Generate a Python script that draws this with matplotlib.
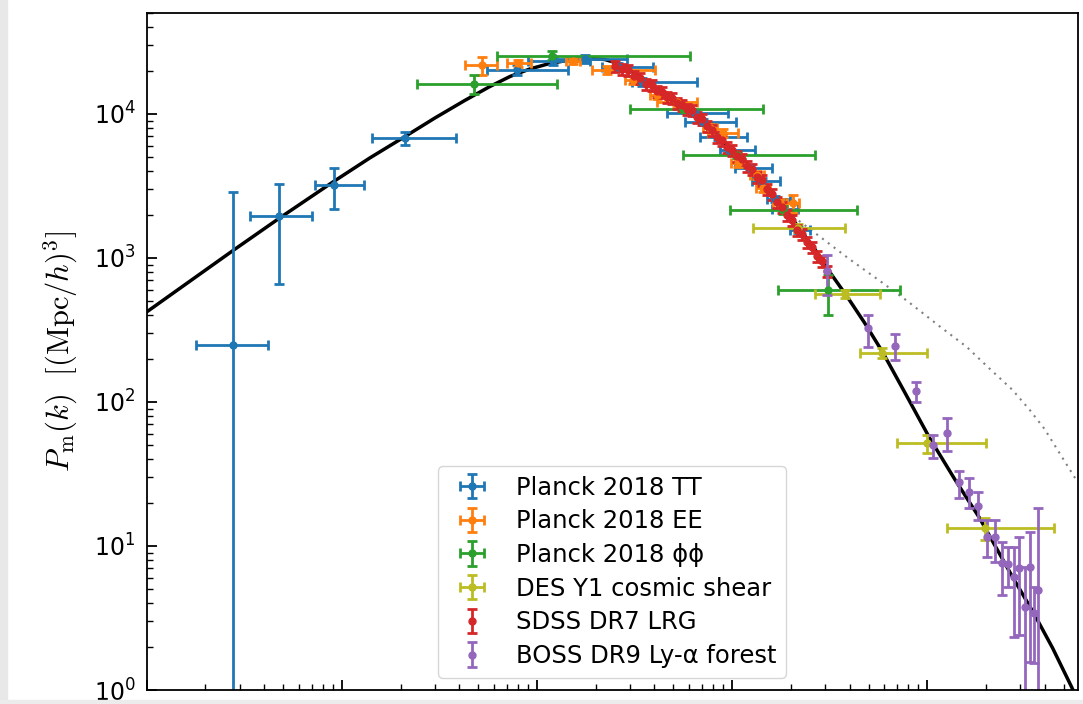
import numpy as np
import matplotlib
matplotlib.use("Agg")
import matplotlib.pyplot as plt
from matplotlib.patches import Rectangle

# linear theory P(k) at z=0
k_lin = [1.00e-4, 1.67e-4, 2.77e-4, 4.76e-4, 9.01e-4, 1.39e-3, 2.11e-3, 3.00e-3,
         4.27e-3, 5.74e-3, 7.27e-3, 9.20e-3, 0.01164, 0.01473, 0.01865, 0.02227,
         0.02659, 0.03445, 0.0479, 0.06433, 0.08433, 0.1093, 0.1416, 0.1815,
         0.2165, 0.2646, 0.316, 0.3864, 0.4775, 0.5904, 0.7656, 1.028, 1.38,
         1.853, 2.735, 3.506, 4.387, 5.491, 6.4]
P_lin = [422, 692, 1127, 1880, 3373, 4945, 6980, 9380,
         12420, 15520, 18200, 20540, 22430, 23710, 24270, 23880,
         22240, 17780, 13120, 9680, 7030, 4945, 3373, 2296,
         1668, 1156, 800, 545, 354, 222, 117, 56.2, 29.2,
         15.65, 6.09, 3.43, 1.957, 1.049, 0.66]

# non-linear (dotted)
k_nl = [0.1815, 0.2205, 0.2965, 0.3981, 0.5674, 0.7891, 1.151, 1.594, 2.07,
        2.738, 3.35, 3.99, 5.89]
P_nl = [2296, 1807, 1334, 984, 698, 503, 337, 241, 172,
        121, 88, 64.9, 27.8]

# Planck 2018 TT
tt_k = [2.76e-4, 4.75e-4, 9.1e-4, 2.10e-3, 7.89e-3, 0.01208, 0.01763, 0.0260, 0.03455,
        0.0646, 0.0710, 0.0847, 0.0965, 0.1236, 0.1425, 0.1663, 0.1827, 0.218]
tt_k_lo = [1.78e-4, 3.37e-4, 7.28e-4, 1.43e-3, 5.55e-3, 8.99e-3, 0.01236, 0.02155, 0.03069,
           0.04645, 0.0574, 0.0686, 0.0868, 0.1036, 0.1268, 0.1511, 0.1603, 0.1982]
tt_k_hi = [4.18e-4, 7.0e-4, 1.30e-3, 3.85e-3, 0.01442, 0.01871, 0.02897, 0.03938, 0.0662,
           0.0954, 0.1048, 0.1194, 0.1312, 0.1603, 0.1762, 0.1982, 0.218, 0.2512]
tt_P = [249, 1958, 3215, 6810, 20220, 23340, 24100, 21200, 16680,
        10160, 8790, 6920, 5620, 4217, 3428, 2570, 2190, 1565]
tt_P_lo = [0.1, 660, 2188, 6095, 18660, 21880, 22600, 19900, 15640,
           9680, 8390, 6590, 5360, 4018, 3266, 2448, 2086, 1492]
tt_P_hi = [2870, 3266, 4217, 7500, 21880, 24880, 25700, 22600, 17780,
           10660, 9230, 7260, 5900, 4424, 3593, 2697, 2296, 1641]

# Planck 2018 EE
ee_k = [5.23e-3, 8.0e-3, 0.01531, 0.02286, 0.03105, 0.0412, 0.0522, 0.0771, 0.0899,
        0.1073, 0.1343, 0.1442, 0.1762, 0.2056]
ee_k_lo = [4.28e-3, 7.02e-3, 0.01409, 0.01914, 0.02825, 0.0379, 0.0412, 0.0710, 0.0753,
           0.0989, 0.1236, 0.1327, 0.1622, 0.1914]
ee_k_hi = [6.24e-3, 9.31e-3, 0.01663, 0.0403, 0.0341, 0.0453, 0.0662, 0.0838, 0.1073,
           0.1167, 0.1459, 0.1567, 0.1914, 0.2206]
ee_P = [21880, 22600, 23340, 20220, 17220, 13550, 12110, 7995, 7380,
        4570, 3770, 3062, 2410, 2410]
ee_P_lo = [18660, 21200, 22240, 18960, 16150, 12710, 11370, 7500, 6920,
           4285, 3540, 2870, 2259, 2053]
ee_P_hi = [24880, 23710, 24540, 21550, 18360, 14450, 12770, 8530, 7870,
           4875, 4018, 3266, 2570, 2738]

# Planck 2018 lensing
pp_k = [4.75e-3, 0.01194, 0.0561, 0.1062, 0.1827, 0.3105]
pp_k_lo = [2.43e-3, 6.24e-3, 0.0300, 0.0561, 0.0977, 0.1722]
pp_k_hi = [0.01267, 0.0610, 0.1442, 0.2665, 0.4375, 0.7275]
pp_P = [16150, 25290, 10830, 5190, 2154, 600]
pp_P_lo = [13770, 23710, 10320, 4945, 2021, 402]
pp_P_hi = [18660, 27380, 11370, 5450, 2296, 762]

# DES Y1 cosmic shear
des_k = [0.218, 0.3795, 0.5875, 1.0, 1.98]
des_k_lo = [0.1282, 0.2665, 0.453, 0.702, 1.266]
des_k_hi = [0.3795, 0.574, 1.0, 2.01, 4.48]
des_P = [1616, 562, 219, 51.9, 13.3]
des_P_lo = [1516, 527, 202, 44.2, 11.0]
des_P_hi = [1722, 600, 237, 59.0, 15.6]

# SDSS DR7 LRG
lrg_k = [0.0251, 0.0273, 0.0293, 0.0314, 0.0337, 0.0362, 0.0389, 0.0412, 0.0438, 0.0465,
         0.0492, 0.0522, 0.0555, 0.0588, 0.0624, 0.0662, 0.0702, 0.0745, 0.0789, 0.0838,
         0.0889, 0.0942, 0.100, 0.1062, 0.1125, 0.1194, 0.1268, 0.1343, 0.1426, 0.1511,
         0.1603, 0.1702, 0.1803, 0.1914, 0.2032, 0.2153, 0.2286, 0.2427, 0.2572, 0.2729,
         0.2897, 0.3069]
lrg_P = [21550, 20540, 20220, 18360, 17780, 16150, 15890, 14450, 14220, 13120,
         12920, 11920, 11550, 10830, 10660, 9530, 9230, 8260, 7740, 6920,
         6590, 5900, 5620, 5110, 4870, 4350, 4150, 3650, 3480, 3010,
         2780, 2450, 2260, 1990, 1835, 1565, 1468, 1291, 1191, 1033,
         953, 812]
lrg_err = [1900, 1850, 1800, 1650, 1600, 1450, 1400, 1300, 1280, 1180,
           1160, 1070, 1040, 970, 960, 860, 830, 740, 700, 620,
           590, 530, 505, 460, 440, 390, 375, 330, 315, 270,
           250, 220, 205, 180, 165, 140, 132, 116, 107, 93,
           86, 73]

# BOSS DR9 Ly-a forest
boss_k = [0.307, 0.498, 0.685, 0.878, 1.073, 1.266, 1.459, 1.642, 1.826, 2.03,
          2.232, 2.425, 2.60, 2.79, 2.96, 3.18, 3.37, 3.54, 3.71]
boss_P = [812, 326, 245, 119, 50.3, 60.9, 27.8, 23.7, 18.9, 11.55,
          11.55, 7.62, 7.50, 6.09, 7.03, 3.77, 7.15, 3.43, 4.95]
boss_P_lo = [553, 241, 196, 100, 40.8, 45.7, 21.5, 18.4, 15.2, 8.39,
             7.74, 4.57, 5.19, 2.33, 2.41, 0.5, 1.56, 1.54, 0.5]
boss_P_hi = [1050, 402, 297, 138, 59.0, 77.4, 33.2, 29.7, 23.7, 15.2,
             15.2, 10.66, 9.84, 9.84, 11.55, 7.15, 12.5, 5.19, 18.4]


def bounds_to_err(v, lo, hi):
    v, lo, hi = np.array(v), np.array(lo), np.array(hi)
    return [v - lo, hi - v]


fig = plt.figure(figsize=(10.83, 7.04), dpi=100)
# screenshot-like border strips
fig.patches.append(Rectangle((0, 0), 7 / 1083, 1, transform=fig.transFigure,
                             color="#e8e8e8", zorder=0))
fig.patches.append(Rectangle((0, 0), 1, 4 / 704, transform=fig.transFigure,
                             color="#ececec", zorder=0))

ax = fig.add_axes([146.7 / 1083, 14 / 704, 931 / 1083, 676.7 / 704])

ax.plot(k_lin, P_lin, color="black", lw=2.5, zorder=1)
ax.plot(k_nl, P_nl, color="gray", lw=1.5, ls=(0, (1, 2.5)), zorder=1)

eb = dict(fmt="o", ms=5, capsize=3.5, elinewidth=2, capthick=2, zorder=2)

ax.errorbar(tt_k, tt_P, yerr=bounds_to_err(tt_P, tt_P_lo, tt_P_hi),
            xerr=bounds_to_err(tt_k, tt_k_lo, tt_k_hi), color="C0",
            label="Planck 2018 TT", **eb)
ax.errorbar(ee_k, ee_P, yerr=bounds_to_err(ee_P, ee_P_lo, ee_P_hi),
            xerr=bounds_to_err(ee_k, ee_k_lo, ee_k_hi), color="C1",
            label="Planck 2018 EE", **eb)
ax.errorbar(pp_k, pp_P, yerr=bounds_to_err(pp_P, pp_P_lo, pp_P_hi),
            xerr=bounds_to_err(pp_k, pp_k_lo, pp_k_hi), color="C2",
            label="Planck 2018 ϕϕ", **eb)
ax.errorbar(des_k, des_P, yerr=bounds_to_err(des_P, des_P_lo, des_P_hi),
            xerr=bounds_to_err(des_k, des_k_lo, des_k_hi), color="C8",
            label="DES Y1 cosmic shear", **eb)
ax.errorbar(lrg_k, lrg_P, yerr=lrg_err, color="C3",
            label="SDSS DR7 LRG", **eb)
ax.errorbar(boss_k, boss_P, yerr=bounds_to_err(boss_P, boss_P_lo, boss_P_hi),
            color="C4", label="BOSS DR9 Ly-α forest", **eb)

ax.set_xscale("log")
ax.set_yscale("log")
ax.set_xlim(1e-4, 5.9)
ax.set_ylim(1, 5e4)

ax.tick_params(which="both", direction="in", top=False, right=False,
               labelbottom=False, labelsize=17, pad=8)
ax.tick_params(which="major", length=7, width=1.3)
ax.tick_params(which="minor", length=4, width=1.0)
for s in ax.spines.values():
    s.set_linewidth(1.3)

ax.set_ylabel(r"$P_\mathrm{m}(k)\ \ [(\mathrm{Mpc}/h)^3]$", fontsize=22,
              math_fontfamily="cm")
ax.yaxis.set_label_coords(-0.072, 0.5)

ax.legend(loc="lower center", fontsize=17.5, labelspacing=0.4)

fig.savefig("out.png", dpi=100)
